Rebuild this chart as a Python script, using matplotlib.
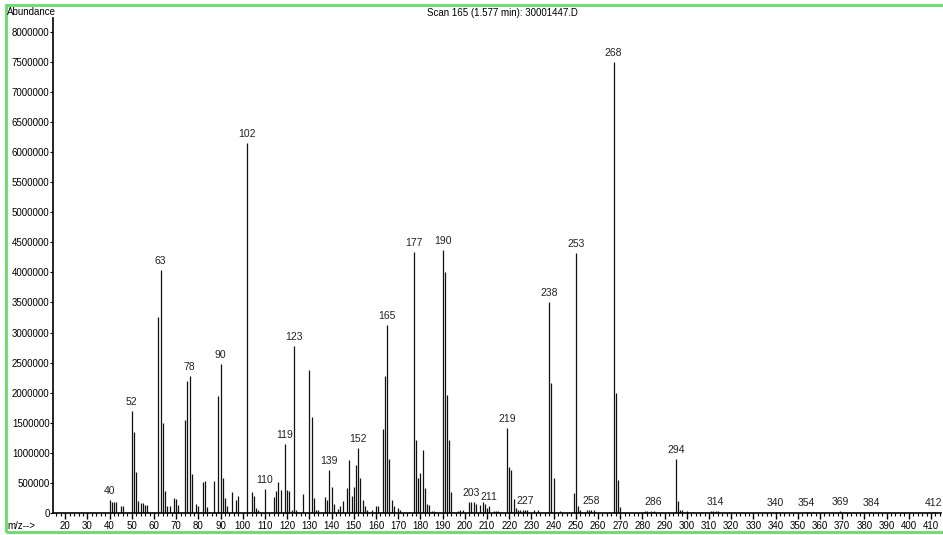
import matplotlib.pyplot as plt
from matplotlib.patches import Rectangle
from matplotlib.ticker import MultipleLocator, FuncFormatter

plt.rcParams['font.family'] = ['Liberation Sans', 'DejaVu Sans']

# m/z and abundance
mz = [40, 41, 42, 43, 45, 46, 50, 51, 52, 53, 54, 55, 56, 57,
      62, 63, 64, 65, 66, 67, 69, 70, 71, 74, 75, 76, 77, 79, 80,
      82, 83, 84, 87, 89, 90, 91, 92, 93, 95, 97, 98, 102, 104, 105,
      106, 107, 110, 114, 115, 116, 117, 119, 120, 121, 122, 123, 124,
      127, 130, 131, 132, 133, 134, 137, 138, 139, 140, 141, 143, 144,
      145, 147, 148, 149, 150, 151, 152, 153, 154, 155, 156, 158, 160,
      161, 163, 164, 165, 166, 167, 168, 170, 171, 177, 178, 179, 180,
      181, 182, 183, 184, 185, 186, 190, 191, 192, 193, 194, 197, 198,
      199, 202, 203, 204, 205, 207, 208, 209, 210, 211, 213, 214, 215,
      219, 220, 221, 222, 223, 224, 225, 226, 227, 228, 231, 233, 238,
      239, 240, 243, 249, 250, 251, 252, 255, 256, 257, 258, 267, 268,
      269, 270, 281, 282, 284, 285, 295, 296, 297, 298, 300, 311, 312,
      313, 314, 340, 354, 355, 369, 383, 411, 412]
abundance = [216000, 177000, 188000, 177000, 122000, 122000, 1700000,
             1350000, 676000, 200000, 161000, 172000, 139000, 139000,
             3260000, 4040000, 1500000, 360000, 111000, 111000, 250000,
             240000, 128000, 1540000, 2190000, 2280000, 654000, 150000,
             111000, 515000, 538000, 100000, 538000, 1950000, 2480000,
             582000, 250000, 111000, 349000, 222000, 277000, 6150000,
             344000, 288000, 83000, 55000, 400000, 272000, 366000, 521000,
             383000, 1150000, 383000, 366000, 50000, 2780000, 50000,
             322000, 2380000, 1590000, 250000, 55000, 55000, 266000,
             222000, 720000, 432000, 150000, 67000, 122000, 194000,
             410000, 876000, 277000, 432000, 798000, 1080000, 582000,
             222000, 122000, 55000, 44000, 122000, 122000, 1400000,
             2280000, 3120000, 898000, 222000, 122000, 78000, 55000,
             4340000, 1210000, 582000, 665000, 1040000, 410000, 150000,
             128000, 28000, 28000, 4370000, 4010000, 1970000, 1220000,
             344000, 28000, 55000, 55000, 177000, 177000, 183000, 155000,
             139000, 177000, 150000, 83000, 111000, 28000, 28000, 28000,
             1410000, 760000, 710000, 233000, 83000, 50000, 50000, 50000,
             50000, 44000, 44000, 44000, 3500000, 2160000, 582000, 28000,
             340000, 4320000, 111000, 50000, 44000, 44000, 44000, 44000,
             7500000, 2000000, 543000, 100000, 28000, 28000, 28000, 28000,
             898000, 194000, 44000, 44000, 28000, 28000, 28000, 28000,
             28000, 15000, 20000, 20000, 33000, 20000, 20000, 20000]

# peak labels (text) and the bar they sit on
label_text = ['40', '52', '63', '78', '90', '102', '110', '119', '123',
              '139', '152', '165', '177', '190', '203', '211', '219', '227',
              '238', '253', '258', '268', '286', '294', '314', '340', '354',
              '369', '384', '412']
label_mz = [40, 50, 63, 76, 90, 102, 110, 119, 123, 139, 152, 165, 177,
            190, 203, 211, 219, 227, 238, 250, 257, 267, 285, 295, 313,
            340, 354, 369, 383, 411]

fig = plt.figure(figsize=(9.43, 5.35), dpi=100)
ax = fig.add_axes([53 / 943, 1 - 513 / 535, 888 / 943, 495 / 535])

ax.vlines(mz, 0, abundance, color='#111111', linewidth=0.9)

ab_of = dict(zip(mz, abundance))
for txt, m in zip(label_text, label_mz):
    ax.annotate(txt, (m, ab_of[m]), xytext=(0, 3), textcoords='offset points',
                ha='center', va='bottom', fontsize=7.5, color='#222222')

ax.set_xlim(14.5, 414.5)
ax.set_ylim(0, 8230000)
ax.xaxis.set_minor_locator(MultipleLocator(2))
ax.yaxis.set_major_locator(MultipleLocator(500000))
ax.set_xticks(range(20, 411, 10))
ax.yaxis.set_major_formatter(FuncFormatter(lambda v, p: '%d' % v))

ax.tick_params(axis='x', which='major', length=4, width=1, pad=1.5, labelsize=7)
ax.tick_params(axis='x', which='minor', length=2, width=0.8)
ax.tick_params(axis='y', which='major', length=2, width=0.8, pad=0.5, labelsize=7)

for s in ['top', 'right']:
    ax.spines[s].set_visible(False)
ax.spines['left'].set_linewidth(1.2)
ax.spines['bottom'].set_linewidth(1.2)

fig.text(7 / 943, 1 - 12 / 535, 'Abundance', fontsize=7, ha='left', va='center')
fig.text(502 / 943, 1 - 13 / 535, 'Scan 165 (1.577 min): 30001447.D',
         fontsize=7, ha='center', va='center')
fig.text(7 / 943, 1 - 526 / 535, 'm/z-->', fontsize=7, ha='left', va='center')

# green frame round the picture (right edge falls outside)
fig.patches.append(Rectangle((6 / 943, 3 / 535), 945 / 943, 527 / 535,
                             transform=fig.transFigure, fill=False,
                             edgecolor='#66dd66', linewidth=2))

fig.savefig('out.png', dpi=100)
plt.close(fig)
